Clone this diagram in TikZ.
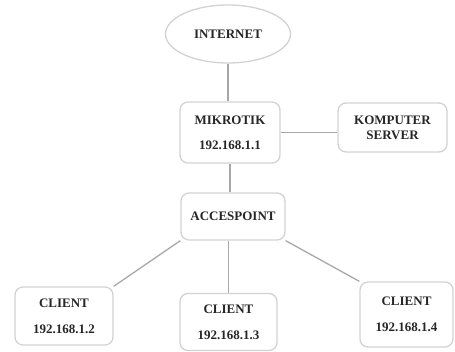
\documentclass[tikz,border=0pt]{standalone}
\usepackage{fontspec}
\setmainfont{Liberation Serif}
\usetikzlibrary{shapes.geometric}
\definecolor{boxgray}{HTML}{D2D2D2}
\definecolor{linkgray}{HTML}{A8A8A8}
\definecolor{txtgray}{HTML}{262626}
\begin{document}
\begin{tikzpicture}[x=1pt, y=-1pt,
    font=\bfseries\fontsize{13}{15}\selectfont, text=txtgray,
    box/.style={draw=boxgray, line width=1.3pt, rounded corners=8pt,
      align=center, inner sep=2pt},
    cloud/.style={ellipse, draw=boxgray, line width=1.3pt, inner sep=2pt},
    link/.style={draw=linkgray, line width=1.3pt}]

  \useasboundingbox (0,0) rectangle (455,351);

% ---------------- upstream: internet, router and server
  \node[cloud, minimum width=125pt, minimum height=58pt] (inet) at (228,34) {INTERNET};
  \node[box, minimum width=100pt, minimum height=61pt] (mikrotik) at (230,132.5)
    {MIKROTIK\\[10pt]192.168.1.1};
  \node[box, minimum width=109pt, minimum height=49pt] (server) at (392.5,127.5)
    {KOMPUTER\\SERVER};

% ---------------- access point
  \node[box, minimum width=104pt, minimum height=47pt] (ap) at (233,216.5) {ACCESPOINT};

% ---------------- the three clients
  \node[box, minimum width=98pt, minimum height=58pt] (client1) at (64,316)
    {CLIENT\\[11pt]192.168.1.2};
  \node[box, minimum width=97pt, minimum height=57pt] (client2) at (228.5,322)
    {CLIENT\\[11pt]192.168.1.3};
  \node[box, minimum width=93pt, minimum height=65pt] (client3) at (406.5,314.5)
    {CLIENT\\[11pt]192.168.1.4};

% ---------------- links
  \draw[link] (inet.south) -- (inet.south |- mikrotik.north);
  \draw[link] (mikrotik.east) -- (mikrotik.east -| server.west);
  \draw[link] (mikrotik.south) -- (mikrotik.south |- ap.north);
  \draw[link] (ap.south west) -- (client1.north east);
  \draw[link] (client2.north |- ap.south) -- (client2.north);
  \draw[link] (ap.south east) -- (client3.north west);
\end{tikzpicture}
\end{document}
